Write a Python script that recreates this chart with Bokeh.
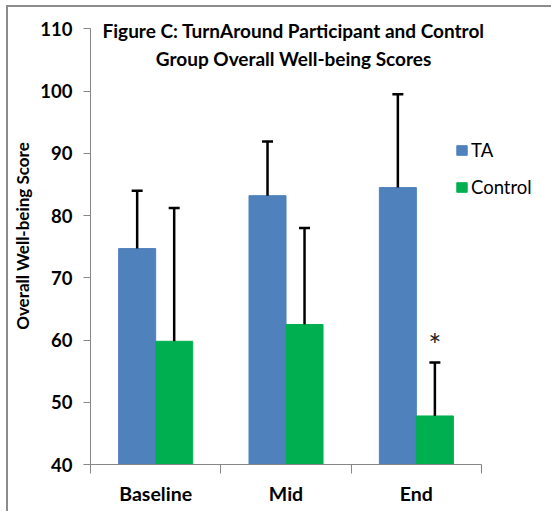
from bokeh.plotting import figure
from bokeh.models import (Range1d, FixedTicker, ColumnDataSource, Legend, LegendItem, Label)
from bokeh.embed import file_html
from bokeh.resources import INLINE
from bokeh.core.properties import value

# ---- data ----
categories = ["Baseline", "Mid", "End"]
ta_mean = [74.7, 83.2, 84.5]
ta_err_top = [84.0, 91.9, 99.5]
control_mean = [59.8, 62.5, 47.8]
control_err_top = [81.2, 78.0, 56.4]
significance = ["", "", "*"]
y_ticks = [40, 50, 60, 70, 80, 90, 100, 110]
title_lines = ["Figure C: TurnAround Participant and Control",
               "Group Overall Well-being Scores"]
y_label = "Overall Well-being Score"

FONT = "Lato"
BLUE = "#4F81BD"
GREEN = "#00B050"
GRAY = "#868686"
bar_w = 0.284

n = len(categories)
y_min, y_max = y_ticks[0], y_ticks[-1]
centers = [i + 0.5 for i in range(n)]
ta_x = [c - bar_w / 2 for c in centers]
c_x = [c + bar_w / 2 for c in centers]

src_ta = ColumnDataSource(dict(x=ta_x, top=ta_mean, err=ta_err_top))
src_c = ColumnDataSource(dict(x=c_x, top=control_mean, err=control_err_top))
sig_idx = [i for i, s in enumerate(significance) if s]
src_sig = ColumnDataSource(dict(x=[c_x[i] for i in sig_idx],
                                y=[control_err_top[i] + 3.0 for i in sig_idx],
                                t=[significance[i] for i in sig_idx]))

# frame extends to the top and right edges so that title and legend are not clipped;
# axis bounds keep the axis lines at the data extent
p = figure(width=545, height=506,
           x_range=Range1d(0, n + 0.552), y_range=Range1d(y_min, y_max + 3.44),
           output_backend="svg", toolbar_location=None,
           min_border_left=82, min_border_right=0, min_border_top=0, min_border_bottom=49)
p.outline_line_color = None
p.xgrid.grid_line_color = None
p.ygrid.grid_line_color = None
p.background_fill_color = "white"
p.border_fill_color = "white"

r_ta = p.vbar(x="x", top="top", bottom=y_min, width=bar_w, source=src_ta,
              fill_color=BLUE, line_color=BLUE, line_width=1)
r_c = p.vbar(x="x", top="top", bottom=y_min, width=bar_w, source=src_c,
             fill_color=GREEN, line_color=GREEN, line_width=1)

for s in (src_ta, src_c):
    p.segment(x0="x", y0="top", x1="x", y1="err", source=s, line_color="black", line_width=2.5)
    p.scatter(x="x", y="err", source=s, marker="dash", size=11, line_color="black", line_width=2.5)

p.text(x="x", y="y", text="t", source=src_sig, text_font=value(FONT), text_font_size="31px",
       text_align="center", text_baseline="middle", text_color="#222222")

# axes
xa = p.xaxis[0]
xa.bounds = (0, n)
xa.ticker = FixedTicker(ticks=centers, minor_ticks=list(range(n + 1)))
xa.major_label_overrides = {c: cat for c, cat in zip(centers, categories)}
xa.major_tick_line_color = None
xa.major_tick_out = 9
xa.major_tick_in = 0
xa.minor_tick_line_color = GRAY
xa.minor_tick_out = 9
xa.minor_tick_in = 0
xa.axis_line_color = GRAY
xa.major_label_standoff = 8
xa.major_label_text_font = FONT
xa.major_label_text_font_style = "bold"
xa.major_label_text_font_size = "19.5px"
xa.major_label_text_color = "black"

ya = p.yaxis[0]
ya.bounds = (y_min, y_max)
ya.ticker = FixedTicker(ticks=y_ticks)
ya.minor_tick_line_color = None
ya.major_tick_out = 7
ya.major_tick_in = 0
ya.major_tick_line_color = GRAY
ya.axis_line_color = GRAY
ya.major_label_standoff = 11
ya.major_label_text_font = FONT
ya.major_label_text_font_style = "bold"
ya.major_label_text_font_size = "18.5px"
ya.major_label_text_color = "black"
ya.axis_label = y_label
ya.axis_label_text_font = FONT
ya.axis_label_text_font_style = "bold"
ya.axis_label_text_font_size = "17px"
ya.axis_label_text_color = "black"
ya.axis_label_standoff = 4

# title inside the plot area
for ty, line in zip([109.75, 105.3], title_lines):
    p.add_layout(Label(x=1.558, y=ty, text=line, text_align="center", text_baseline="middle",
                       text_font=FONT, text_font_style="bold", text_font_size="19px",
                       text_color="black"))

legend = Legend(items=[LegendItem(label="TA", renderers=[r_ta]),
                       LegendItem(label="Control", renderers=[r_c])],
                location=(365, 266), glyph_width=13, glyph_height=12, label_standoff=3,
                padding=0, margin=0, spacing=15, label_height=22,
                border_line_color=None, background_fill_alpha=0,
                label_text_font=FONT, label_text_font_size="18.5px", label_text_color="black")
p.add_layout(legend)

# outer picture frame (top and left edges, as in the reference image)
p.styles = {"border-top": "2px solid #8c8c8c", "border-left": "2px solid #8c8c8c",
            "margin-top": "5px", "margin-left": "6px"}

open("out.html", "w").write(file_html(p, INLINE))
